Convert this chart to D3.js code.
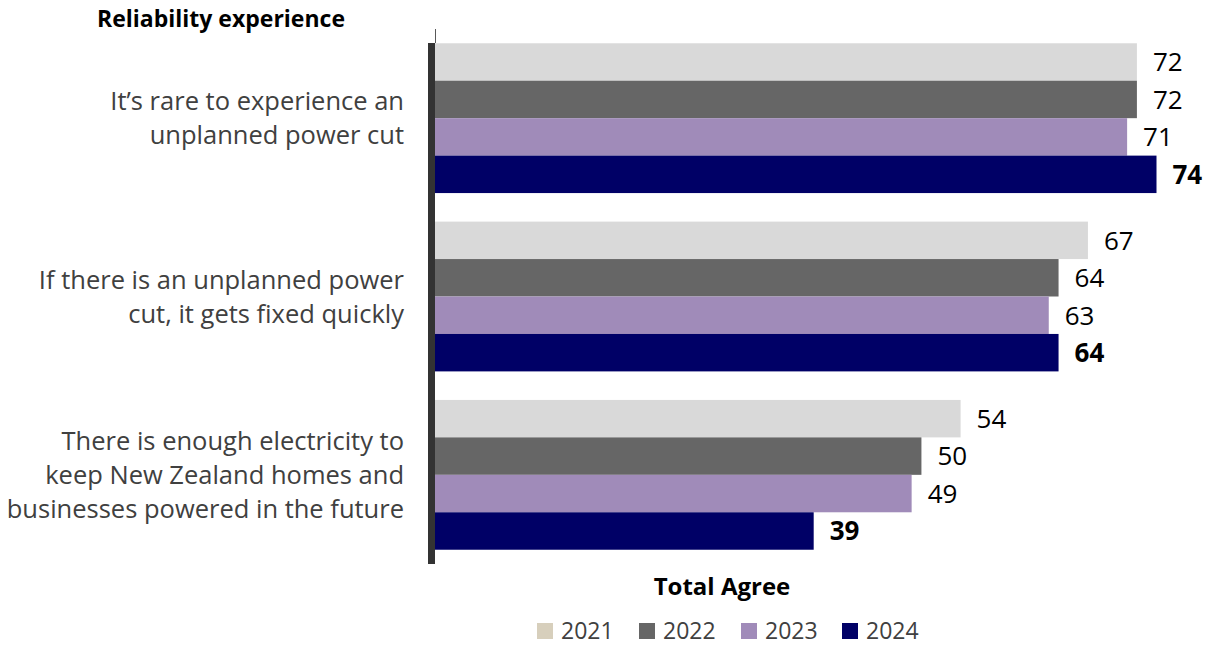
<!DOCTYPE html>
<html>
<head>
<meta charset="utf-8">
<script src="https://cdn.jsdelivr.net/npm/d3@7"></script>
<style>
  body { margin: 0; background: #fff; }
  svg { display: block; font-family: "Open Sans", sans-serif; }
</style>
</head>
<body>
<svg id="chart" width="1211" height="647"></svg>
<script>
// chart data
const categories = [
    ['It\u2019s rare to experience an', 'unplanned power cut'],
    ['If there is an unplanned power', 'cut, it gets fixed quickly'],
    ['There is enough electricity to', 'keep New Zealand homes and', 'businesses powered in the future']
];
const years = ['2021', '2022', '2023', '2024'];
const values2021 = [72, 67, 54];
const values2022 = [72, 64, 50];
const values2023 = [71, 63, 49];
const values2024 = [74, 64, 39];

const barColors = ['#d9d9d9', '#666666', '#a08bb9', '#000066'];
const legendColors = ['#d7cfbc', '#666666', '#a08bb9', '#000066'];

const series = [values2021, values2022, values2023, values2024];

let svg = d3.select('#chart');

// scales
let scaleX = d3.scaleLinear()
    .domain([0, 74])
    .range([431.7, 1156.5]);

let scaleY = d3.scaleBand()
    .domain(d3.range(categories.length))
    .range([29, 564])
    .paddingInner(0.16)
    .paddingOuter(0.08);

let scaleYear = d3.scaleBand()
    .domain(years)
    .range([0, scaleY.bandwidth()]);

// bars + value labels, one group per category
let groups = svg.append('g')
    .selectAll('g')
    .data(categories)
    .join('g')
    .attr('transform', (d, i) => `translate(0, ${scaleY(i)})`);

groups.each(function (cat, ci) {
    let g = d3.select(this);
    years.forEach((yr, yi) => {
        let v = series[yi][ci];
        g.append('rect')
            .attr('x', scaleX(0))
            .attr('y', scaleYear(yr))
            .attr('width', scaleX(v) - scaleX(0))
            .attr('height', scaleYear.bandwidth())
            .attr('fill', barColors[yi]);
        g.append('text')
            .attr('x', scaleX(v) + 16)
            .attr('y', scaleYear(yr) + scaleYear.bandwidth() / 2)
            .attr('dy', '0.36em')
            .attr('font-size', 26)
            .attr('font-weight', yi === 3 ? 'bold' : 'normal')
            .attr('fill', '#000')
            .text(v);
    });
});

// axis line (thin tick on top, thick bar beside the bars)
svg.append('line')
    .attr('x1', 435.5).attr('x2', 435.5)
    .attr('y1', 29).attr('y2', 43)
    .attr('stroke', '#595959')
    .attr('stroke-width', 1);
svg.append('line')
    .attr('x1', 431.5).attr('x2', 431.5)
    .attr('y1', 43).attr('y2', 564)
    .attr('stroke', '#333333')
    .attr('stroke-width', 7);

// category labels
categories.forEach((lines, ci) => {
    let cy = scaleY(ci) + scaleY.bandwidth() / 2;
    let t = svg.append('text')
        .attr('text-anchor', 'end')
        .attr('font-size', 25.5)
        .attr('fill', '#404040');
    lines.forEach((ln, li) => {
        t.append('tspan')
            .attr('x', 404)
            .attr('y', cy + (li - (lines.length - 1) / 2) * 34)
            .attr('dy', '0.36em')
            .text(ln);
    });
});

// title
svg.append('text')
    .attr('x', 97).attr('y', 27)
    .attr('font-size', 23)
    .attr('font-weight', 'bold')
    .attr('fill', '#000')
    .text('Reliability experience');

// axis title
svg.append('text')
    .attr('x', 722).attr('y', 595)
    .attr('text-anchor', 'middle')
    .attr('font-size', 24)
    .attr('font-weight', 'bold')
    .attr('fill', '#000')
    .text('Total Agree');

// legend
let legendX = [537, 639, 741, 842];
let legend = svg.append('g')
    .selectAll('g')
    .data(years)
    .join('g')
    .attr('transform', (d, i) => `translate(${legendX[i]}, 623)`);
legend.append('rect')
    .attr('width', 16).attr('height', 16)
    .attr('fill', (d, i) => legendColors[i]);
legend.append('text')
    .attr('x', 24).attr('y', 16)
    .attr('font-size', 23)
    .attr('fill', '#404040')
    .text(d => d);
</script>
</body>
</html>
